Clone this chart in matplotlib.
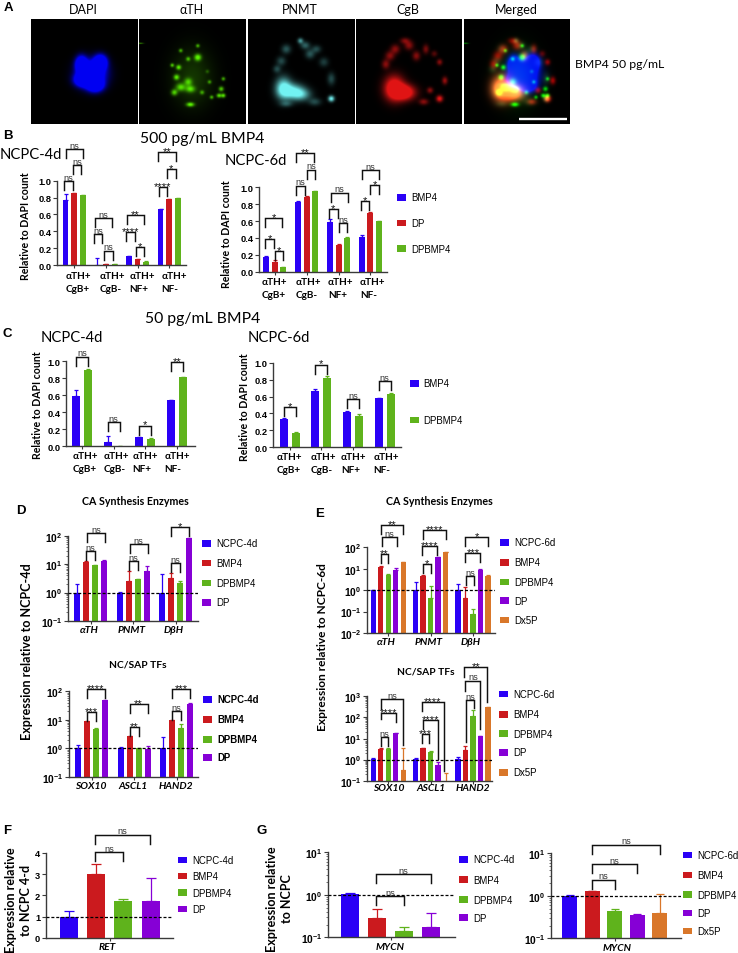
"""
Multi-panel figure: immunostaining row plus bar charts of counts and expression.
"""

import numpy as np
import matplotlib
matplotlib.use("Agg")
import matplotlib.pyplot as plt
from matplotlib.patches import Rectangle
from matplotlib.transforms import Affine2D

W, H = 738, 954

plt.rcParams["font.family"] = ["Lato", "DejaVu Sans"]
plt.rcParams["mathtext.default"] = "regular"

BLUE = "#2a00f6"
RED = "#cb1a1e"
GREEN = "#5fb31c"
PURPLE = "#8600d6"
ORANGE = "#d9772a"

# ── Panel A spots: centre x, centre y, sigma x, sigma y, brightness ──────────
DAPI_SPOTS = [(.47, .43, .035, .05, 1), (.65, .41, .04, .045, 1), (.57, .52, .085, .08, 1),
              (.60, .63, .05, .04, 1), (.48, .58, .05, .04, .9)]
TH_SPOTS = [(.55, .365, .022, .022, 1), (.55, .254, .012, .012, .7), (.39, .30, .012, .012, .7),
            (.37, .46, .016, .016, .9), (.31, .44, .012, .012, .8), (.46, .38, .014, .014, .7),
            (.35, .555, .018, .018, .9), (.46, .60, .025, .025, .7), (.39, .65, .03, .025, .8),
            (.48, .667, .03, .022, .8), (.33, .70, .02, .02, .8), (.59, .70, .014, .014, .6),
            (.77, .667, .016, .016, .8), (.75, .73, .016, .014, .9), (.79, .73, .014, .014, .9),
            (.48, .816, .025, .014, 1), (.68, .746, .012, .012, .7), (.79, .57, .012, .012, .7),
            (.66, .60, .012, .012, .6), (.64, .50, .012, .012, .3), (.50, .56, .13, .19, .22),
            (.01, .23, .02, .004, .6)]
PNMT_SPOTS = [(.33, .66, .05, .07, 1), (.42, .69, .07, .05, .9), (.50, .72, .06, .04, .6),
              (.78, .76, .02, .02, 1), (.49, .206, .018, .018, .6), (.357, .286, .03, .03, .35),
              (.58, .333, .03, .03, .35), (.31, .40, .03, .03, .3), (.27, .476, .025, .025, .3),
              (.71, .41, .03, .03, .25), (.78, .57, .025, .04, .3), (.535, .25, .03, .025, .4),
              (.64, .286, .03, .025, .3), (.357, .81, .04, .02, .3), (.625, .79, .04, .025, .3)]
CGB_SPOTS = [(.36, .66, .065, .08, 1), (.46, .70, .07, .05, .95), (.37, .286, .03, .03, .4),
             (.57, .35, .025, .03, .4), (.28, .43, .025, .03, .4), (.46, .206, .03, .02, .35),
             (.79, .41, .018, .02, .4), (.84, .587, .018, .025, .45), (.79, .76, .022, .022, .7),
             (.64, .79, .03, .02, .4), (.70, .68, .02, .02, .4), (.50, .25, .03, .03, .4),
             (.66, .286, .02, .03, .35), (.32, .35, .03, .03, .4), (.74, .33, .02, .02, .25)]
A_TITLES = ["DAPI", "αTH", "PNMT", "CgB", "Merged"]

# ── Panel B, 4 d ─────────────────────────────────────────────────────────────
CELL_GROUPS = ["αTH+\nCgB+", "αTH+\nCgB-", "αTH+\nNF+", "αTH+\nNF-"]
B4_BMP4 = [.775, .005, .105, .67]
B4_BMP4_TOP = [.845, .08, .105, .67]
B4_DP = [.85, .012, .07, .78]
B4_DP_TOP = [.855, .015, .075, .785]
B4_DPBMP4 = [.825, .012, .04, .79]
B4_DPBMP4_TOP = [.83, .015, .045, .795]

# ── Panel B, 6 d ─────────────────────────────────────────────────────────────
B6_BMP4 = [.175, .825, .59, .41]
B6_BMP4_TOP = [.185, .835, .62, .44]
B6_DP = [.11, .885, .315, .69]
B6_DP_TOP = [.135, .895, .325, .705]
B6_DPBMP4 = [.05, .955, .405, .60]
B6_DPBMP4_TOP = [.055, .96, .41, .605]

# ── Panel C ──────────────────────────────────────────────────────────────────
C4_BMP4 = [.59, .05, .105, .54]
C4_BMP4_TOP = [.665, .125, .105, .54]
C4_DPBMP4 = [.90, .005, .09, .815]
C4_DPBMP4_TOP = [.905, .005, .095, .82]
C6_BMP4 = [.335, .665, .42, .58]
C6_BMP4_TOP = [.347, .685, .425, .585]
C6_DPBMP4 = [.17, .825, .375, .625]
C6_DPBMP4_TOP = [.185, .84, .39, .64]

# ── Panel D ──────────────────────────────────────────────────────────────────
ENZYMES = ["αTH", "PNMT", "DβH"]
TFS = ["SOX10", "ASCL1", "HAND2"]
DE_NCPC = [1, 1, 1]
DE_NCPC_TOP = [2, 1.02, 4.5]
DE_BMP4 = [12, 2.6, 3.2]
DE_BMP4_TOP = [12.5, 5.8, 5]
DE_DPBMP4 = [9, 2.9, 2.1]
DE_DPBMP4_TOP = [9.5, 2.95, 2.6]
DE_DP = [13, 5.7, 80]
DE_DP_TOP = [13.5, 8.3, 85]

DT_NCPC = [1, 1.05, 1]
DT_NCPC_TOP = [1.3, 1.1, 2.5]
DT_BMP4 = [9, 2.7, 9.5]
DT_BMP4_TOP = [9.2, 2.8, 9.7]
DT_DPBMP4 = [4.8, 1.0, 5.3]
DT_DPBMP4_TOP = [5, 1.05, 7]
DT_DP = [48, .92, 37]
DT_DP_TOP = [48.5, 1.2, 39]

# ── Panel E ──────────────────────────────────────────────────────────────────
EE_NCPC = [1, 1, 1]
EE_NCPC_TOP = [1.02, 2.4, 2]
EE_BMP4 = [12, 4.8, .45]
EE_BMP4_TOP = [13, 5, 1.4]
EE_DPBMP4 = [5.2, .45, .08]
EE_DPBMP4_TOP = [5.4, 1.5, .13]
EE_DP = [8.5, 35, 9]
EE_DP_TOP = [10.5, 37, 9.5]
EE_DX5P = [20, 60, 4.8]
EE_DX5P_TOP = [21, 62, 5]

ET_NCPC = [1.1, 1.1, 1.1]
ET_NCPC_TOP = [1.2, 1.2, 1.3]
ET_BMP4 = [3.3, 3.5, 2.8]
ET_BMP4_TOP = [3.5, 3.7, 4.5]
ET_DPBMP4 = [3.3, 2.4, 120]
ET_DPBMP4_TOP = [3.5, 2.5, 230]
ET_DP = [18, .55, 13]
ET_DP_TOP = [19, .8, 13.5]
ET_DX5P = [.32, .09, 300]
ET_DX5P_TOP = [3.5, .22, 310]

# ── Panels F and G ───────────────────────────────────────────────────────────
F_VALUES = [1, 3, 1.75, 1.75]
F_TOPS = [1.25, 3.5, 1.81, 2.8]
G4_VALUES = [1.05, .29, .14, .174]
G4_TOPS = [1.1, .47, .174, .38]
G6_VALUES = [1.0, 1.27, .45, .36, .40]
G6_TOPS = [1.02, 1.33, .50, .38, 1.1]

NAMES_4D = ["NCPC-4d", "BMP4", "DPBMP4", "DP"]
NAMES_6D = ["NCPC-6d", "BMP4", "DPBMP4", "DP", "Dx5P"]

fig = plt.figure(figsize=(W / 100, H / 100), dpi=100, facecolor="white")
PX = Affine2D().scale(1 / W, -1 / H).translate(0, 1) + fig.transFigure


def label(x, y, s, size=7, weight="normal", family=("Lato", "DejaVu Sans"), **kw):
    kw.setdefault("ha", "center")
    kw.setdefault("va", "center")
    fig.text(x, y, s, transform=PX, fontsize=size, fontweight=weight,
             family=list(family), **kw)


def make_axes(box):
    l, t, r, b = box
    return fig.add_axes([l / W, 1 - b / H, (r - l) / W, (b - t) / H])


def legend(sw_x, text_x, ys, names, colors, weight="normal"):
    for y, name, col in zip(ys, names, colors):
        fig.add_artist(Rectangle((sw_x, y - 3.4), 9, 6.8, transform=PX, color=col, lw=0))
        label(text_x, y, name, 6.9, weight, ("Liberation Sans",), ha="left")


def bracket(ax, pos, height, spec):
    """spec: group, bar a, bar b, rise above the axis in px, text, then dx, left drop, right drop"""
    g, a, b, rise, text, *rest = spec
    dx, drop_l, drop_r = (list(rest) + [0, 9, 9][len(rest):])
    pitch = pos["pitch"]
    x0 = g * pos["gs"] + a + dx / pitch
    x1 = g * pos["gs"] + b + dx / pitch
    ys = [(rise - drop_l) / height, rise / height, rise / height, (rise - drop_r) / height]
    ax.plot([x0, x0, x1, x1], ys, transform=ax.get_xaxis_transform(), color="#111111",
            lw=1.05, clip_on=False, solid_joinstyle="miter", zorder=6)
    off = 1.4 if text == "ns" else -1.9
    size = 6.6 if text == "ns" else 8.0
    col = "#333333" if text == "ns" else "#111111"
    ax.text((x0 + x1) / 2, (rise + off) / height, text, transform=ax.get_xaxis_transform(),
            ha="center", va="baseline", fontsize=size, color=col,
            family=["Liberation Sans"], clip_on=False, zorder=7)


def bars(box, first, pitch, group, width, series, colors, ylim, log, yticks=None,
         brackets=(), ref=None, cap=1.3, labels=(), label_dx=None, label_dy=9.0,
         label_font=None):
    l, t, r, b = box
    ax = make_axes(box)
    ax.set_facecolor("none")
    gs = group / pitch
    if log:
        ax.set_yscale("log")
    for j, ((vals, tops), col) in enumerate(zip(series, colors)):
        xs = np.arange(len(vals)) * gs + j
        ax.bar(xs, vals, width=width / pitch, color=col, zorder=2)
        lower = np.zeros(len(vals))
        upper = np.array(tops) - np.array(vals)
        ax.errorbar(xs, vals, yerr=[lower, upper], fmt="none", ecolor=col, elinewidth=0.9,
                    capsize=cap, capthick=0.9, zorder=2)
    ax.set_xlim((l - first) / pitch, (r - first) / pitch)
    ax.set_ylim(*ylim)
    if ref is not None:
        ax.axhline(ref, color="black", lw=0.9, dashes=(2.4, 1.5), zorder=4)

    for side in ("top", "right"):
        ax.spines[side].set_visible(False)
    for side in ("left", "bottom"):
        ax.spines[side].set_linewidth(1.0)
        ax.spines[side].set_color("#3a3a3a")

    n_groups = len(series[0][0])
    centers = np.arange(n_groups) * gs + (len(series) - 1) / 2
    ax.set_xticks(centers)
    ax.set_xticklabels([])
    ax.tick_params(axis="x", length=2, width=0.8, color="#3a3a3a")
    ax.tick_params(axis="y", length=2.6, width=0.8, color="#3a3a3a", pad=1.5)

    if log:
        lo, hi = np.log10(ylim[0]), np.log10(ylim[1])
        exps = np.arange(int(round(lo)), int(round(hi)) + 1)
        ax.set_yticks(10.0 ** exps)
        ax.set_yticklabels([f"10$^{{{e}}}$" for e in exps], fontsize=7.4, fontweight="bold",
                           family=["Liberation Sans"])
        ax.yaxis.set_minor_locator(matplotlib.ticker.LogLocator(base=10, subs=np.arange(2, 10)))
        ax.yaxis.set_minor_formatter(matplotlib.ticker.NullFormatter())
        ax.tick_params(axis="y", which="minor", length=1.3, width=0.5, color="#3a3a3a")
    else:
        ax.set_yticks(yticks)
        fmt = "{:.1f}" if max(yticks) <= 1 else "{:.0f}"
        ax.set_yticklabels([fmt.format(v) for v in yticks], fontsize=6.7, fontweight="bold",
                           family=["Liberation Sans"])

    pos = {"gs": gs, "pitch": pitch}
    for spec in brackets:
        bracket(ax, pos, b - t, spec)

    font = label_font or {"fontsize": 7.4, "fontweight": "bold", "fontstyle": "italic"}
    dxs = label_dx or [0] * len(labels)
    for c, text, dx in zip(centers, labels, dxs):
        px = first + c * pitch + dx
        fig.text(px, b + label_dy, text, transform=PX, ha="center", va="center",
                 multialignment="left", linespacing=1.55,
                 family=["Lato", "DejaVu Sans"], **font)
    return ax


# ── Panel A: microscopy row ──────────────────────────────────────────────────
def channel(spots, n=212):
    yy, xx = np.mgrid[0:1:n * 1j, 0:1:n * 1j]
    img = np.zeros((n, n))
    for cx, cy, sx, sy, amp in spots:
        img += amp * np.exp(-((xx - cx) ** 2 / (2 * sx ** 2) + (yy - cy) ** 2 / (2 * sy ** 2)))
    return np.clip(img, 0, 1)


def rgb(r, g, b):
    return np.clip(np.dstack([r, g, b]), 0, 1)


dapi = np.clip(channel(DAPI_SPOTS) * 2.4, 0, 1)
th = channel(TH_SPOTS)
pnmt = channel(PNMT_SPOTS)
cgb = np.clip(channel(CGB_SPOTS) * 1.5, 0, 1)
zero = np.zeros_like(th)
a_images = [
    rgb(zero, zero, dapi * .95),
    rgb(th * .35, th * .95, zero),
    rgb(pnmt * .45, pnmt * .95, pnmt * .95),
    rgb(cgb * .88, cgb * .08, cgb * .08),
    rgb(cgb * .95 + pnmt * .2, th + pnmt * .55, dapi * .95 + pnmt * .25),
]
a_boxes = [(31.4, 20, 137.6, 125), (139, 20, 245.7, 125), (247.6, 20, 354, 125),
           (356, 20, 462, 125), (464, 20, 570, 125)]
for img, box, title in zip(a_images, a_boxes, A_TITLES):
    ax = make_axes(box)
    ax.imshow(img, extent=(0, 1, 1, 0), aspect="auto", interpolation="bilinear")
    ax.axis("off")
    label((box[0] + box[2]) / 2 - 1, 10, title, 9)
ax.plot([.52, .97], [.955, .955], color="white", lw=1.7, solid_capstyle="butt")
ax.set_xlim(0, 1)
ax.set_ylim(1, 0)
label(575, 64, "BMP4 50 pg/mL", 8.8, ha="left")

# ── Panel letters and headings ───────────────────────────────────────────────
for x, y, s in [(8, 8, "A"), (7.5, 136, "B"), (7.5, 334, "C"), (21, 511, "D"),
                (320, 514, "E"), (7, 831, "F"), (262, 831, "G")]:
    label(x, y, s, 9.5, "bold", ("Liberation Sans",))
label(140, 139, "500 pg/mL BMP4", 11.3, ha="left")
label(0, 155, "NCPC-4d", 10.6, ha="left")
label(225, 161, "NCPC-6d", 10.6, ha="left")
label(145, 319, "50 pg/mL BMP4", 11.3, ha="left")
label(40.7, 338, "NCPC-4d", 10.6, ha="left")
label(248, 338, "NCPC-6d", 10.6, ha="left")
label(135, 502, "CA Synthesis Enzymes", 7.7, "bold")
label(138, 665, "NC/SAP TFs", 7.4, "bold")
label(439, 502, "CA Synthesis Enzymes", 7.7, "bold")
label(426, 672, "NC/SAP TFs", 7.4, "bold")

for x, y in [(26, 225.8), (227, 234), (37.7, 405), (245, 407.5)]:
    label(x, y, "Relative to DAPI count", 7.6, "bold", rotation=90)
label(27, 652, "Expression relative to NCPC-4d", 9, "bold", rotation=90)
label(322.7, 647, "Expression relative to NCPC-6d", 8.6, "bold", rotation=90)
label(18.3, 900, "Expression relative\nto NCPC 4-d", 9, "bold", rotation=90, linespacing=1.35)
label(279.5, 899, "Expression relative\nto NCPC", 9, "bold", rotation=90, linespacing=1.25)

UNIT_TICKS = [0, .2, .4, .6, .8, 1.0]
COUNT_FONT = {"fontsize": 7.2, "fontweight": "bold"}
THREE = [BLUE, RED, GREEN]
TWO = [BLUE, GREEN]
FOUR = [BLUE, RED, GREEN, PURPLE]
FIVE = [BLUE, RED, GREEN, PURPLE, ORANGE]

# ── Panel B ──────────────────────────────────────────────────────────────────
bars((57.3, 181.7, 186, 266), 65.5, 8.67, 31.67, 5.7,
     [(B4_BMP4, B4_BMP4_TOP), (B4_DP, B4_DP_TOP), (B4_DPBMP4, B4_DPBMP4_TOP)],
     THREE, (0, 1), False, UNIT_TICKS,
     [(0, 0, 1, 83.7, "ns", -1.4), (0, 0, 2, 115.7, "ns"), (0, 1, 2, 99.7, "ns", -1.4),
      (1, 0, 2, 47, "ns", -2.5), (1, 0, 1, 31, "ns", -3.5), (1, 1, 2, 14.3, "ns", -2),
      (2, 0, 2, 50.3, "**", -2), (2, 0, 1, 33, "****", -2.7), (2, 1, 2, 17.7, "*", -1.7),
      (3, 0, 2, 112.7, "**", -2.3), (3, 1, 2, 96, "*", -2.3), (3, 0, 1, 78.3, "****", -2)],
     cap=1.2, labels=CELL_GROUPS, label_dx=[4.7, 6.3, 4.7, 5.3], label_dy=16.7,
     label_font=COUNT_FONT)
bars((259.3, 188.3, 386.7, 272.7), 266.3, 8.55, 31.87, 6,
     [(B6_BMP4, B6_BMP4_TOP), (B6_DP, B6_DP_TOP), (B6_DPBMP4, B6_DPBMP4_TOP)],
     THREE, (0, 1), False, UNIT_TICKS,
     [(0, 0, 2, 53.7, "*", -1), (0, 0, 1, 33, "*", -1), (0, 1, 2, 21, "*"),
      (1, 0, 2, 118.3, "**", -1.7), (1, 1, 2, 102, "ns"), (1, 0, 1, 86, "ns", -2),
      (2, 0, 2, 79, "ns", 0.5), (2, 0, 1, 63, "*", -1), (2, 1, 2, 48.3, "ns"),
      (3, 0, 2, 101.7, "ns"), (3, 1, 2, 86.7, "*"), (3, 0, 1, 70.3, "*", -1)],
     cap=1.2, labels=CELL_GROUPS, label_dx=[-.7, 2, 2, 2.3], label_dy=16.3,
     label_font=COUNT_FONT)
legend(396.7, 411, [198.3, 224, 249.7], ["BMP4", "DP", "DPBMP4"], THREE)

# ── Panel C ──────────────────────────────────────────────────────────────────
bars((66.3, 362.3, 195, 447.3), 76, 11.83, 31.7, 8,
     [(C4_BMP4, C4_BMP4_TOP), (C4_DPBMP4, C4_DPBMP4_TOP)],
     TWO, (0, 1), False, UNIT_TICKS,
     [(0, 0, 1, 89.7, "ns"), (1, 0, 1, 24, "ns"), (2, 0, 1, 20.7, "*"), (3, 0, 1, 84.3, "**")],
     cap=1.6, labels=CELL_GROUPS, label_dx=[3, 3, 0, 0], label_dy=15.5, label_font=COUNT_FONT)
bars((273.3, 363.7, 401, 448.3), 283.8, 11.83, 31.67, 8,
     [(C6_BMP4, C6_BMP4_TOP), (C6_DPBMP4, C6_DPBMP4_TOP)],
     TWO, (0, 1), False, UNIT_TICKS,
     [(0, 0, 1, 40, "*"), (1, 0, 1, 82.7, "*"), (2, 0, 1, 48, "ns"), (3, 0, 1, 66, "ns")],
     cap=1.6, labels=CELL_GROUPS, label_dx=[0, 2, .7, 1.3], label_dy=15.5, label_font=COUNT_FONT)
legend(410, 423.3, [384.3, 421], ["BMP4", "DPBMP4"], TWO)

# ── Panel D ──────────────────────────────────────────────────────────────────
bars((68.3, 536.7, 198, 622), 77, 9, 42.5, 6,
     [(DE_NCPC, DE_NCPC_TOP), (DE_BMP4, DE_BMP4_TOP), (DE_DPBMP4, DE_DPBMP4_TOP), (DE_DP, DE_DP_TOP)],
     FOUR, (.1, 100), True,
     brackets=[(0, 1, 3, 88, "ns", 1), (0, 1, 2, 69.7, "ns"),
               (1, 1, 3, 77, "ns", 1), (1, 1, 2, 60, "ns"),
               (2, 1, 3, 93.7, "*"), (2, 1, 2, 58, "ns")],
     ref=1, labels=ENZYMES, label_dx=[-1.5, -1.5, -1.5])
legend(202.3, 216, [544.3, 564, 584, 603.3], NAMES_4D, FOUR)
bars((69, 692.3, 198, 777.7), 78, 9, 42.5, 6,
     [(DT_NCPC, DT_NCPC_TOP), (DT_BMP4, DT_BMP4_TOP), (DT_DPBMP4, DT_DPBMP4_TOP), (DT_DP, DT_DP_TOP)],
     FOUR, (.1, 100), True,
     brackets=[(0, 1, 3, 87.7, "****"), (0, 1, 2, 65, "***"),
               (1, 1, 3, 72.3, "**"), (1, 1, 2, 49.3, "**"),
               (2, 1, 3, 87.7, "***"), (2, 1, 2, 65.7, "ns")],
     ref=1, labels=TFS, label_dx=[-1, -1, -1])
legend(203, 217.7, [700.3, 720.3, 740.3, 758.3], NAMES_4D, FOUR, weight="bold")

# ── Panel E ──────────────────────────────────────────────────────────────────
bars((367, 548.3, 495, 634), 373.3, 7.5, 42.33, 5.3,
     [(EE_NCPC, EE_NCPC_TOP), (EE_BMP4, EE_BMP4_TOP), (EE_DPBMP4, EE_DPBMP4_TOP), (EE_DP, EE_DP_TOP),
      (EE_DX5P, EE_DX5P_TOP)],
     FIVE, (.01, 100), True,
     brackets=[(0, 1, 4, 108.3, "**"), (0, 1, 3, 95.7, "ns", 1), (0, 1, 2, 79, "**"),
               (1, 1, 4, 102.7, "****"), (1, 1, 3, 86.7, "****", -1), (1, 1, 2, 69.3, "*"),
               (2, 1, 4, 96.3, "*"), (2, 1, 3, 80, "***"), (2, 1, 2, 56.7, "ns", 1)],
     ref=1, labels=ENZYMES, label_dx=[-2.3, -2.3, -2.3])
legend(500, 514, [543.3, 563.3, 583, 601.7, 621], NAMES_6D, FIVE)
bars((367, 697.3, 491.7, 781.7), 373.3, 7.5, 42.33, 5.3,
     [(ET_NCPC, ET_NCPC_TOP), (ET_BMP4, ET_BMP4_TOP), (ET_DPBMP4, ET_DPBMP4_TOP), (ET_DP, ET_DP_TOP),
      (ET_DX5P, ET_DX5P_TOP)],
     FIVE, (.1, 1000), True,
     brackets=[(0, 1, 4, 81.7, "ns", 0, 10, 46), (0, 1, 3, 67.7, "****", 0, 6, 9),
               (0, 1, 2, 43.3, "ns", 0, 9, 9),
               (1, 1, 4, 79, "****", -1.5, 9, 69), (1, 1, 3, 61, "****", 0, 9, 39),
               (1, 1, 2, 46.7, "***", -1.5, 9, 9),
               (2, 1, 4, 113.7, "**", -1, 10, 35), (2, 1, 3, 100, "ns", 0, 10, 48),
               (2, 1, 2, 80.7, "ns", 1, 42, 8)],
     ref=1, labels=TFS, label_dx=[0, 0, 0], label_dy=6.5)
legend(499.3, 513.3, [695, 715.3, 734.7, 753.3, 773.3], NAMES_6D, FIVE)

# ── Panel F ──────────────────────────────────────────────────────────────────
bars((46, 854, 173, 938.7), 69, 27.17, 27.17, 18,
     [([v], [t]) for v, t in zip(F_VALUES, F_TOPS)],
     FOUR, (0, 4), False, [0, 1, 2, 3, 4],
     brackets=[(0, 1, 2, 85.3, "ns", -.7), (0, 1, 3, 103, "ns", -.7)],
     ref=.97, cap=3.4, labels=["RET"], label_dx=[-2])
legend(178.3, 192.7, [861, 877, 893.7, 910], NAMES_4D, FOUR)

# ── Panel G ──────────────────────────────────────────────────────────────────
bars((328, 853.3, 455, 938.3), 349.8, 27.2, 27.2, 18,
     [([v], [t]) for v, t in zip(G4_VALUES, G4_TOPS)],
     FOUR, (.1, 10), True,
     brackets=[(0, 1, 2, 41, "ns", -.7), (0, 1, 3, 63, "ns", -.7)],
     ref=1, cap=3.4, labels=["MYCN"])
legend(459.3, 473.3, [860.3, 880.7, 900.7, 918.7], NAMES_4D, FOUR)
bars((550.7, 854.3, 680.7, 939.3), 569.7, 22.5, 22.5, 15,
     [([v], [t]) for v, t in zip(G6_VALUES, G6_TOPS)],
     FIVE, (.1, 10), True,
     brackets=[(0, 1, 2, 58.7, "ns"), (0, 1, 3, 74, "ns"), (0, 1, 4, 93.7, "ns")],
     ref=1, cap=3.0, labels=["MYCN"], label_dx=[2])
legend(683.3, 697.7, [856, 876, 895.7, 914, 932], NAMES_6D, FIVE)

fig.savefig("out.png", dpi=100, facecolor="white")
